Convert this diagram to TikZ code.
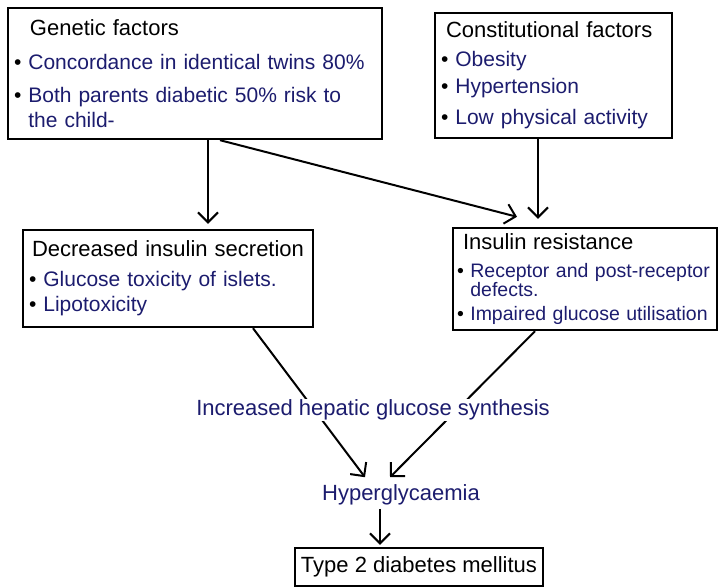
\documentclass[tikz,border=0pt]{standalone}
\usepackage{fontspec}
\setmainfont{Liberation Sans}
\usetikzlibrary{positioning,arrows.meta}
\definecolor{ink}{RGB}{28,28,110}
\newcommand{\itm}{\textcolor{black}{\textbullet}\ }
\newcommand{\hang}{\phantom{\textbullet\ }}
\newcommand{\boxhead}[1]{{\fontsize{22}{25}\selectfont #1}}

\begin{document}
\begin{tikzpicture}[x=1pt,y=-1pt,
  factorbox/.style={draw, line width=2.4pt, rectangle, align=left, inner xsep=6pt, inner ysep=0pt, font=\fontsize{21}{25}\selectfont},
  flowarr/.style={-{Straight Barb[length=10pt,width=20pt]}, line width=2pt},
  flowtext/.style={text=ink, font=\fontsize{22}{26}\selectfont}]
\useasboundingbox (0,0) rectangle (718,588);
\node[factorbox, text width=362pt, minimum height=131pt] (genetic) at (195,73.5) {\hspace*{16pt}\boxhead{Genetic factors}\\[9pt]
\itm\textcolor{ink}{Concordance in identical twins 80\%}\\[8pt]
\itm\textcolor{ink}{Both parents diabetic 50\% risk to}\\
\hang\textcolor{ink}{the child-}};
\node[factorbox, text width=225pt, minimum height=125pt] (const) at (553.5,75.5) {\hspace*{5pt}\boxhead{Constitutional factors}\\[4pt]
\itm\textcolor{ink}{Obesity}\\[2pt]
\itm\textcolor{ink}{Hypertension}\\[6pt]
\itm\textcolor{ink}{Low physical activity}};
\node[factorbox, text width=278pt, minimum height=97pt] (decreased) at (168,278.5) {\hspace*{3pt}\boxhead{Decreased insulin secretion}\\[5pt]
\itm\textcolor{ink}{Glucose toxicity of islets.}\\
\itm\textcolor{ink}{Lipotoxicity}};
\node[factorbox, inner xsep=4pt, text width=256pt, minimum height=102pt, font=\fontsize{19.5}{24}\selectfont] (insulin) at (585,279) {\hspace*{6pt}\boxhead{Insulin resistance}\\[4pt]
\itm\textcolor{ink}{Receptor and post-receptor}\\[-5pt]
\hang\textcolor{ink}{defects.}\\[0pt]
\itm\textcolor{ink}{Impaired glucose utilisation}};
\node[flowtext] (hyper) at (401,495) {Hyperglycaemia};
\node[draw, line width=2.4pt, minimum width=248pt, minimum height=38pt, inner sep=2pt, font=\fontsize{22}{26}\selectfont] (type2) at (419,567) {Type 2 diabetes mellitus};
\draw[flowarr] ([xshift=13pt]genetic.south) -- ([xshift=13pt,yshift=5pt]genetic.south |- decreased.north);
\draw[flowarr] ([xshift=25pt]genetic.south) -- ([xshift=-68pt,yshift=10pt]insulin.north);
\draw[flowarr] ([xshift=-15.5pt]const.south) -- ([xshift=-15.5pt,yshift=8pt]const.south |- insulin.north);
\draw[flowarr] ([xshift=85pt]decreased.south) -- ([xshift=-36pt,yshift=4pt]hyper.north);
\draw[flowarr] ([xshift=-50pt]insulin.south) -- ([xshift=-11pt,yshift=4pt]hyper.north);
\draw[flowarr] ([xshift=-21pt]hyper.south) -- ([xshift=-21pt,yshift=2pt]hyper.south |- type2.north);
\node[flowtext, fill=white, inner sep=1pt] (hepatic) at (373,410) {Increased hepatic glucose synthesis};
\end{tikzpicture}
\end{document}
